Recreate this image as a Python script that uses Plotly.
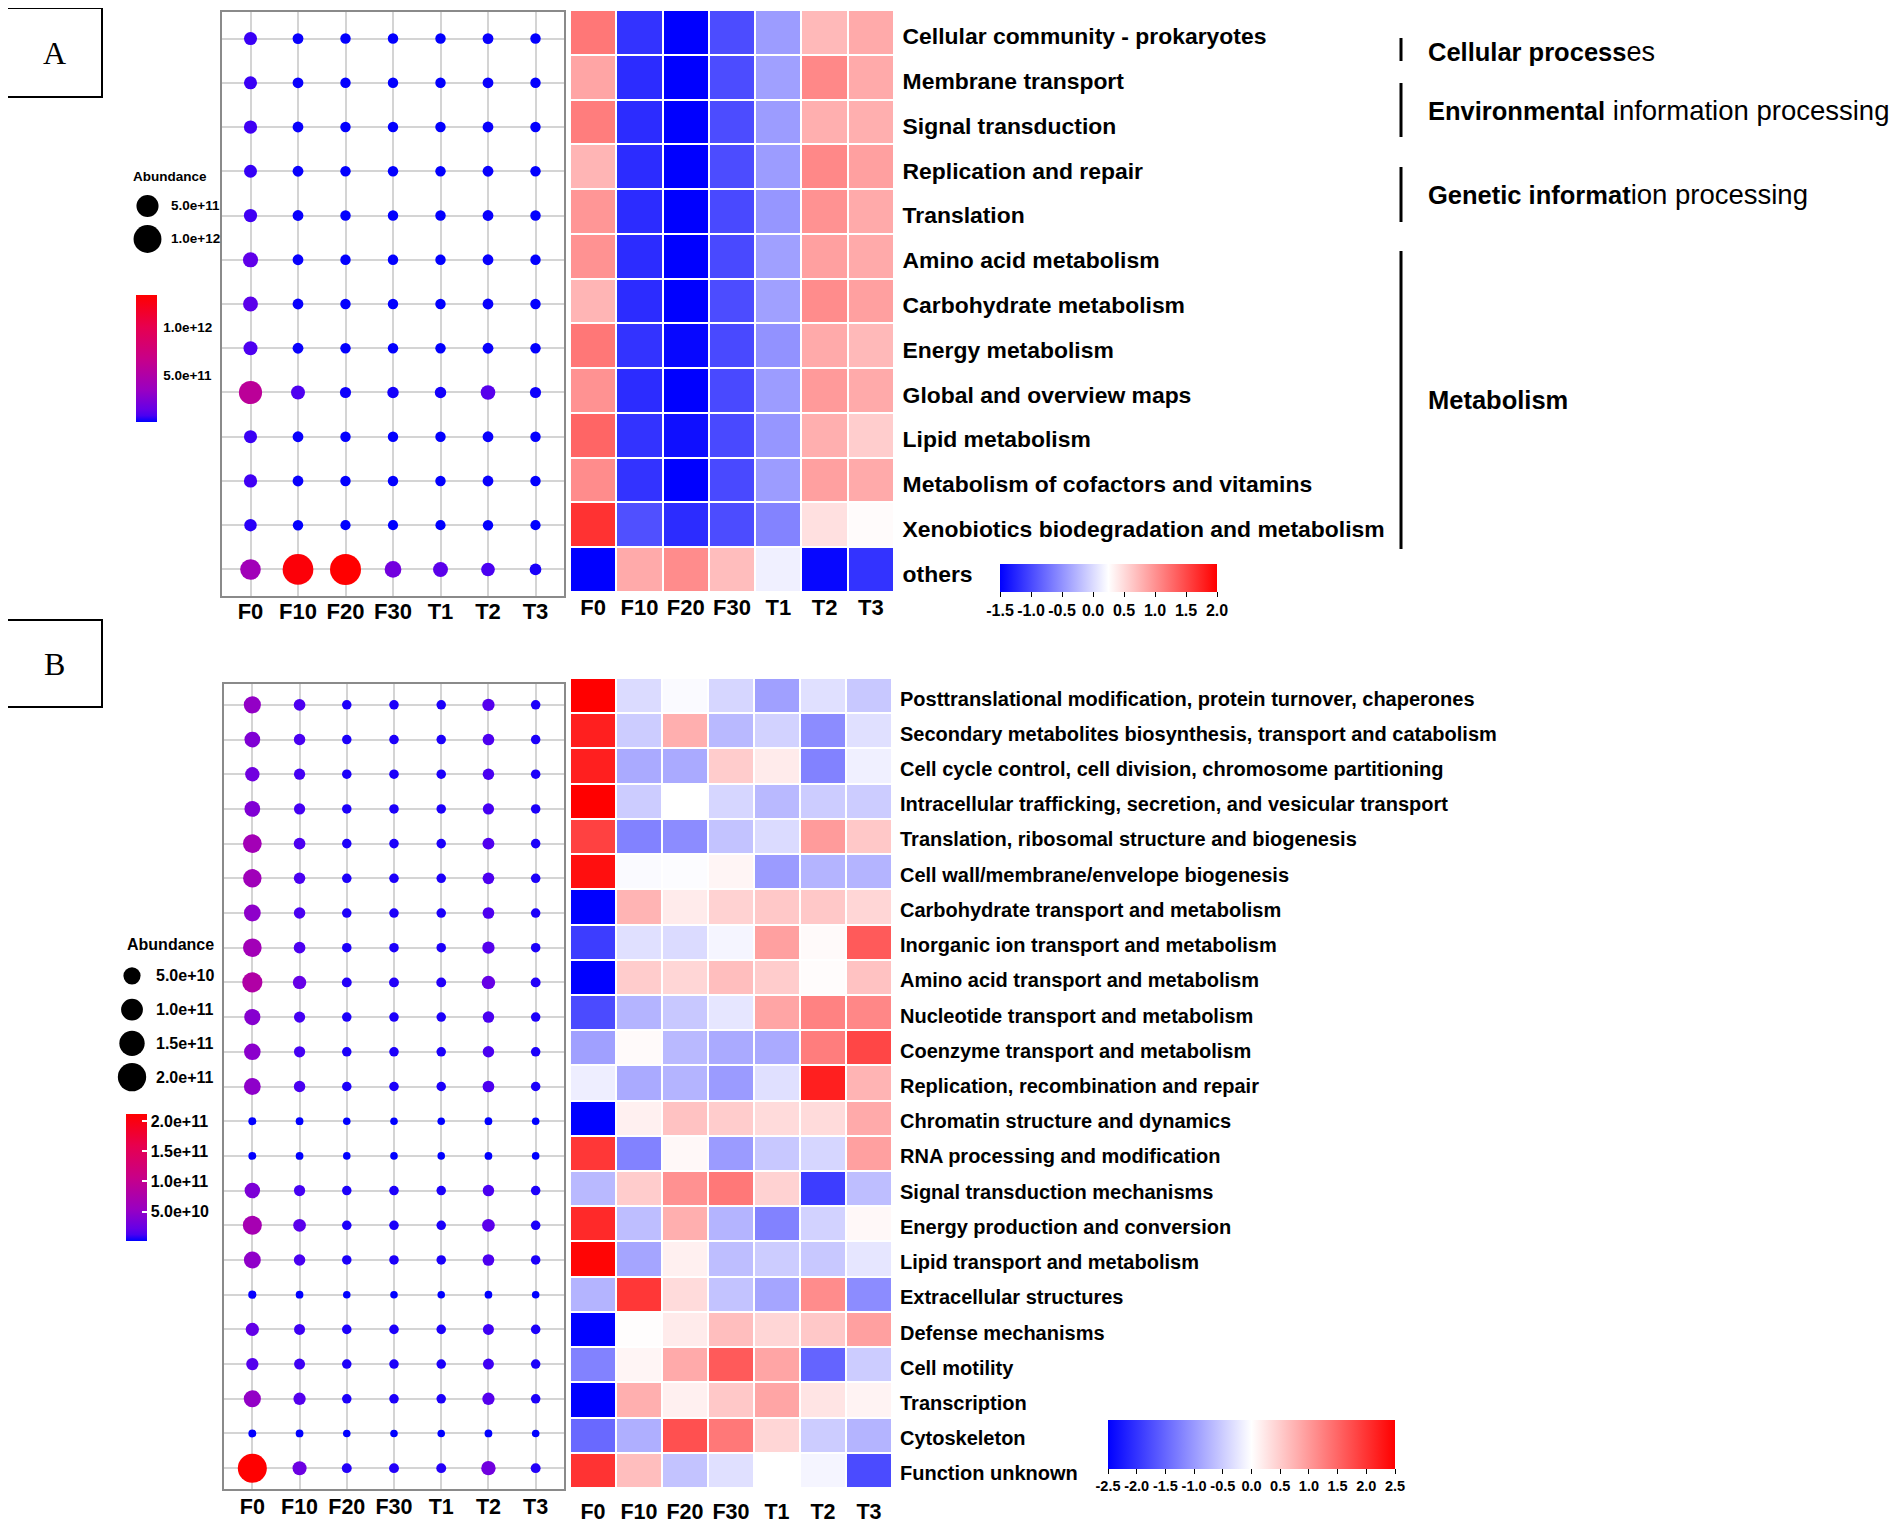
import numpy as np
import plotly.graph_objects as go

W, H = 1902, 1533
OFF = 8  # browser body margin


def px(x):
    return (x - OFF) / W


def py(y):
    return 1 - (y - OFF) / H


SANS = "Liberation Sans, Arial, sans-serif"

samples = ["F0", "F10", "F20", "F30", "T1", "T2", "T3"]

# ---------------- Panel A (KEGG) ----------------
kegg_rows = [
    "Cellular community - prokaryotes", "Membrane transport", "Signal transduction",
    "Replication and repair", "Translation", "Amino acid metabolism",
    "Carbohydrate metabolism", "Energy metabolism", "Global and overview maps",
    "Lipid metabolism", "Metabolism of cofactors and vitamins",
    "Xenobiotics biodegradation and metabolism", "others",
]
# abundance in units of 1e10
kegg_abund_F0 = [6.5, 6.5, 7, 6, 7, 13, 12, 9, 58, 6.5, 7, 5, 40]
kegg_abund_F10 = [2, 2, 2, 2, 2, 2, 2, 2, 9, 2, 2, 1.5, 130]
kegg_abund_F20 = [1.5, 1.5, 1.5, 1.5, 1.5, 1.5, 1.5, 1.5, 2.5, 1.5, 1.5, 1.2, 133.5]
kegg_abund_F30 = [1.5, 1.5, 1.5, 1.5, 1.5, 1.5, 1.5, 1.5, 3, 1.5, 1.5, 1.2, 19]
kegg_abund_T1 = [1.5, 1.5, 1.5, 1.5, 1.5, 1.5, 1.5, 1.5, 3, 1.5, 1.5, 1.2, 12]
kegg_abund_T2 = [2, 2, 2, 2, 2, 2, 2, 2, 11, 2, 2, 1.5, 8]
kegg_abund_T3 = [1.5, 1.5, 1.5, 1.5, 1.5, 1.5, 1.5, 1.5, 2.5, 1.5, 1.5, 1.2, 3.5]

kegg_z_F0 = [1.18, 0.87, 1.14, 0.76, 0.97, 1.0, 0.76, 1.18, 1.0, 1.31, 1.04, 1.66, -1.5]
kegg_z_F10 = [-1.15, -1.2, -1.2, -1.2, -1.2, -1.2, -1.2, -1.15, -1.2, -1.15, -1.15, -0.95, 0.83]
kegg_z_F20 = [-1.5, -1.5, -1.5, -1.5, -1.5, -1.5, -1.5, -1.45, -1.5, -1.4, -1.5, -1.2, 1.04]
kegg_z_F30 = [-0.98, -0.98, -0.98, -0.98, -1.0, -1.0, -0.98, -1.0, -1.0, -1.0, -1.0, -0.98, 0.7]
kegg_z_T1 = [-0.43, -0.4, -0.43, -0.43, -0.47, -0.4, -0.4, -0.5, -0.43, -0.47, -0.43, -0.6, 0.15]
kegg_z_T2 = [0.73, 1.07, 0.8, 1.07, 1.0, 0.9, 1.04, 0.83, 0.94, 0.8, 0.9, 0.46, -1.45]
kegg_z_T3 = [0.83, 0.83, 0.8, 0.9, 0.83, 0.83, 0.9, 0.73, 0.83, 0.59, 0.83, 0.28, -1.15]

kegg_size_breaks = [5e11, 1e12]
kegg_size_labels = ["5.0e+11", "1.0e+12"]
kegg_color_ticks = [5e11, 1e12]
kegg_color_ticklabels = ["5.0e+11", "1.0e+12"]
kegg_z_ticks = [-1.5, -1.0, -0.5, 0.0, 0.5, 1.0, 1.5, 2.0]

kegg_group_names = [
    "<b>Cellular process</b><span style='font-size:27px'>es</span>",
    "<b>Environmental</b><span style='font-size:27.5px'> information processing</span>",
    "<b>Genetic informat</b><span style='font-size:27.5px'>ion processing</span>",
    "<b>Metabolism</b>",
]

# ---------------- Panel B (COG) ----------------
cog_rows = [
    "Posttranslational modification, protein turnover, chaperones",
    "Secondary metabolites biosynthesis, transport and catabolism",
    "Cell cycle control, cell division, chromosome partitioning",
    "Intracellular trafficking, secretion, and vesicular transport",
    "Translation, ribosomal structure and biogenesis",
    "Cell wall/membrane/envelope biogenesis",
    "Carbohydrate transport and metabolism",
    "Inorganic ion transport and metabolism",
    "Amino acid transport and metabolism",
    "Nucleotide transport and metabolism",
    "Coenzyme transport and metabolism",
    "Replication, recombination and repair",
    "Chromatin structure and dynamics",
    "RNA processing and modification",
    "Signal transduction mechanisms",
    "Energy production and conversion",
    "Lipid transport and metabolism",
    "Extracellular structures",
    "Defense mechanisms",
    "Cell motility",
    "Transcription",
    "Cytoskeleton",
    "Function unknown",
]
# abundance in units of 1e10
cog_abund_F0 = [5.0, 3.8, 2.8, 3.8, 6.5, 6.2, 4.7, 6.4, 8.0, 4.2, 4.5, 4.7, 0.15, 0.15, 3.6, 6.8, 4.8, 0.2, 2.1, 1.6, 5.0, 0.15, 21.2]
cog_abund_F10 = [1.3, 1.2, 1.1, 1.1, 1.3, 1.2, 1.2, 1.3, 2.2, 1.1, 1.1, 1.2, 0.12, 0.12, 1.1, 1.8, 1.2, 0.12, 1.0, 1.0, 1.6, 0.12, 2.6]
cog_abund_F20 = [0.5, 0.5, 0.5, 0.5, 0.5, 0.5, 0.5, 0.5, 0.6, 0.5, 0.5, 0.5, 0.1, 0.1, 0.5, 0.5, 0.5, 0.1, 0.5, 0.5, 0.5, 0.1, 0.6]
cog_abund_F30 = [0.5, 0.5, 0.5, 0.5, 0.5, 0.5, 0.5, 0.5, 0.6, 0.5, 0.5, 0.5, 0.1, 0.1, 0.5, 0.5, 0.5, 0.1, 0.5, 0.5, 0.5, 0.1, 0.6]
cog_abund_T1 = [0.5, 0.5, 0.5, 0.5, 0.5, 0.5, 0.5, 0.5, 0.6, 0.5, 0.5, 0.5, 0.1, 0.1, 0.5, 0.5, 0.5, 0.1, 0.5, 0.5, 0.5, 0.1, 0.6]
cog_abund_T2 = [1.6, 1.3, 1.2, 1.1, 1.4, 1.3, 1.3, 1.6, 2.2, 1.2, 1.2, 1.3, 0.12, 0.12, 1.2, 1.8, 1.3, 0.12, 1.0, 1.0, 1.6, 0.12, 2.8]
cog_abund_T3 = [0.5, 0.5, 0.5, 0.5, 0.5, 0.5, 0.5, 0.5, 0.6, 0.5, 0.5, 0.5, 0.1, 0.1, 0.5, 0.5, 0.5, 0.1, 0.5, 0.5, 0.5, 0.1, 0.6]

cog_z_F0 = [2.5, 2.2, 2.2, 2.5, 1.86, 2.35, -2.5, -1.9, -2.5, -1.76, -0.93, -0.17, -2.5, 1.96, -0.69, 2.1, 2.45, -0.74, -2.5, -1.23, -2.5, -1.47, 2.0]
cog_z_F10 = [-0.35, -0.5, -0.83, -0.5, -1.23, -0.05, 0.74, -0.3, 0.5, -0.74, 0.05, -0.83, 0.15, -1.23, 0.5, -0.64, -0.88, 1.96, 0.02, 0.1, 0.78, -0.78, 0.64]
cog_z_F20 = [-0.05, 0.78, -0.83, 0.0, -1.13, -0.03, 0.2, -0.35, 0.4, -0.54, -0.69, -0.74, 0.6, 0.07, 1.08, 0.78, 0.15, 0.35, 0.2, 0.83, 0.15, 1.72, -0.59]
cog_z_F30 = [-0.4, -0.69, 0.5, -0.4, -0.59, 0.1, 0.44, -0.1, 0.64, -0.25, -0.83, -0.98, 0.5, -0.98, 1.32, -0.74, -0.64, -0.59, 0.64, 1.62, 0.54, 1.32, -0.3]
cog_z_T1 = [-0.93, -0.44, 0.2, -0.69, -0.35, -0.98, 0.54, 0.93, 0.5, 0.88, -0.83, -0.3, 0.35, -0.54, 0.44, -1.23, -0.5, -0.88, 0.4, 0.88, 0.88, 0.4, 0.0]
cog_z_T2 = [-0.3, -1.13, -1.23, -0.5, 0.98, -0.74, 0.54, 0.05, 0.03, 1.23, 1.27, 2.2, 0.35, -0.4, -1.9, -0.44, -0.54, 1.13, 0.54, -1.52, 0.26, -0.5, -0.1]
cog_z_T3 = [-0.54, -0.3, -0.15, -0.5, 0.54, -0.74, 0.4, 1.62, 0.6, 1.18, 1.81, 0.74, 0.83, 0.93, -0.64, 0.07, -0.25, -1.13, 0.93, -0.5, 0.12, -0.74, -1.76]

cog_size_breaks = [5e10, 1e11, 1.5e11, 2e11]
cog_size_labels = ["5.0e+10", "1.0e+11", "1.5e+11", "2.0e+11"]
cog_color_ticks = [5e10, 1e11, 1.5e11, 2e11]
cog_color_ticklabels = ["5.0e+10", "1.0e+11", "1.5e+11", "2.0e+11"]
cog_z_ticks = [-2.5, -2.0, -1.5, -1.0, -0.5, 0.0, 0.5, 1.0, 1.5, 2.0, 2.5]

# ggplot-like Lab blue->red gradient
dot_scale = [
    [0.0, "rgb(0,0,255)"], [0.05, "rgb(73,0,242)"], [0.1, "rgb(102,0,230)"],
    [0.25, "rgb(153,0,194)"], [0.5, "rgb(200,0,136)"], [0.75, "rgb(231,0,79)"],
    [1.0, "rgb(255,0,0)"],
]
heat_scale = [[0.0, "#0000FF"], [0.5, "#FFFFFF"], [1.0, "#FF0000"]]


def bold(size):
    return dict(family=SANS, size=size, color="black", weight="bold")


def long_form(rows, cols):
    xs, ys, vs = [], [], []
    for s, col in zip(samples, cols):
        for r, v in zip(rows, col):
            xs.append(s)
            ys.append(r)
            vs.append(v * 1e10)
    return xs, ys, np.array(vs)


def size_fn(v, vmax, dmin, dmax):
    return dmin + (dmax - dmin) * np.sqrt(np.clip(np.asarray(v) / vmax, 0, 1))


fig = go.Figure()

# ---- A dots
ka_cols = [kegg_abund_F0, kegg_abund_F10, kegg_abund_F20, kegg_abund_F30,
           kegg_abund_T1, kegg_abund_T2, kegg_abund_T3]
ax_, ay_, av_ = long_form(kegg_rows, ka_cols)
a_vmax = av_.max()
A_DMIN, A_DMAX = 8, 31
fig.add_trace(go.Scatter(
    x=ax_, y=ay_, mode="markers", xaxis="x", yaxis="y", hoverinfo="skip",
    marker=dict(size=size_fn(av_, a_vmax, A_DMIN, A_DMAX), color=av_, opacity=1,
                colorscale=dot_scale, cmin=av_.min(), cmax=a_vmax, line=dict(width=0),
                showscale=True,
                colorbar=dict(x=px(136), xanchor="left", y=py(295), yanchor="top",
                              len=127, lenmode="pixels", thickness=21, xpad=0, ypad=0,
                              outlinewidth=0, tickvals=kegg_color_ticks,
                              ticktext=kegg_color_ticklabels, ticks="outside", ticklen=4,
                              tickcolor="rgba(0,0,0,0)", tickfont=bold(13.5))),
))

# ---- A heatmap
kz = np.array([kegg_z_F0, kegg_z_F10, kegg_z_F20, kegg_z_F30,
               kegg_z_T1, kegg_z_T2, kegg_z_T3]).T
fig.add_trace(go.Heatmap(
    x=samples, y=kegg_rows, z=kz, xaxis="x2", yaxis="y2", zmin=-1.5, zmax=2.0,
    colorscale=heat_scale, xgap=2, ygap=2, hoverinfo="skip",
    colorbar=dict(orientation="h", x=px(1000), xanchor="left", y=py(564), yanchor="top",
                  len=217, lenmode="pixels", thickness=28, xpad=0, ypad=0, outlinewidth=0,
                  tickvals=kegg_z_ticks, ticktext=[f"{t:.1f}" for t in kegg_z_ticks],
                  ticks="outside", ticklen=5, tickcolor="black", tickangle=0,
                  tickfont=bold(16)),
))

# ---- A size legend
fig.add_trace(go.Scatter(
    x=[0.5] * len(kegg_size_breaks), y=list(range(len(kegg_size_breaks))),
    mode="markers", xaxis="x5", yaxis="y5", hoverinfo="skip",
    marker=dict(size=size_fn(kegg_size_breaks, a_vmax, A_DMIN, A_DMAX), color="#000000",
                opacity=1, line=dict(width=0)),
))

# ---- B dots
ca_cols = [cog_abund_F0, cog_abund_F10, cog_abund_F20, cog_abund_F30,
           cog_abund_T1, cog_abund_T2, cog_abund_T3]
bx_, by_, bv_ = long_form(cog_rows, ca_cols)
b_vmax = bv_.max()
B_DMIN, B_DMAX = 6, 29
fig.add_trace(go.Scatter(
    x=bx_, y=by_, mode="markers", xaxis="x3", yaxis="y3", hoverinfo="skip",
    marker=dict(size=size_fn(bv_, b_vmax, B_DMIN, B_DMAX), color=bv_, opacity=1,
                colorscale=dot_scale, cmin=bv_.min(), cmax=b_vmax, line=dict(width=0),
                showscale=True,
                colorbar=dict(x=px(126), xanchor="left", y=py(1114), yanchor="top",
                              len=127, lenmode="pixels", thickness=21, xpad=0, ypad=0,
                              outlinewidth=0, tickvals=cog_color_ticks,
                              ticktext=cog_color_ticklabels, ticks="inside", ticklen=5,
                              tickcolor="white", tickwidth=1.5, tickfont=bold(16))),
))

# ---- B heatmap
cz = np.array([cog_z_F0, cog_z_F10, cog_z_F20, cog_z_F30,
               cog_z_T1, cog_z_T2, cog_z_T3]).T
fig.add_trace(go.Heatmap(
    x=samples, y=cog_rows, z=cz, xaxis="x4", yaxis="y4", zmin=-2.5, zmax=2.5,
    colorscale=heat_scale, xgap=2, ygap=2, hoverinfo="skip",
    colorbar=dict(orientation="h", x=px(1108), xanchor="left", y=py(1420), yanchor="top",
                  len=287, lenmode="pixels", thickness=49, xpad=0, ypad=0, outlinewidth=0,
                  tickvals=cog_z_ticks, ticktext=[f"{t:.1f}" for t in cog_z_ticks],
                  ticks="outside", ticklen=5, tickcolor="black", tickangle=0,
                  tickfont=bold(14.5)),
))

# ---- B size legend
fig.add_trace(go.Scatter(
    x=[0.5] * len(cog_size_breaks), y=list(range(len(cog_size_breaks))),
    mode="markers", xaxis="x6", yaxis="y6", hoverinfo="skip",
    marker=dict(size=size_fn(cog_size_breaks, b_vmax, B_DMIN, B_DMAX), color="#000000",
                opacity=1, line=dict(width=0)),
))

dot_common = dict(showgrid=True, gridcolor="#D4D4D4", gridwidth=2, zeroline=False,
                  showline=True, mirror=True, linecolor="#8A8A8A", linewidth=1.5,
                  ticks="")
hidden = dict(visible=False, fixedrange=True)

fig.update_layout(
    width=W, height=H, margin=dict(l=0, r=0, t=0, b=0),
    paper_bgcolor="white", plot_bgcolor="white", showlegend=False,
    # A dots
    xaxis=dict(domain=[px(222), px(564)], anchor="y", type="category",
               categoryorder="array", categoryarray=samples, range=[-0.6, 6.6],
               tickfont=bold(22), ticklabelstandoff=-5, **dot_common),
    yaxis=dict(domain=[py(596), py(12)], anchor="x", type="category",
               categoryorder="array", categoryarray=kegg_rows,
               range=[len(kegg_rows) - 0.4, -0.6], showticklabels=False, **dot_common),
    # A heatmap
    xaxis2=dict(domain=[px(570), px(894)], anchor="y2", type="category",
                categoryorder="array", categoryarray=samples, showgrid=False,
                zeroline=False, ticks="", tickfont=bold(22)),
    yaxis2=dict(domain=[py(592), py(10)], anchor="x2", type="category", side="right",
                categoryorder="array", categoryarray=kegg_rows,
                range=[len(kegg_rows) - 0.5, -0.5], showgrid=False, zeroline=False,
                ticks="outside", ticklen=3, tickcolor="white", tickfont=bold(22.9),
                ticklabelshift=-4),
    # B dots
    xaxis3=dict(domain=[px(224), px(564)], anchor="y3", type="category",
                categoryorder="array", categoryarray=samples, range=[-0.6, 6.6],
                tickfont=bold(21.5), ticklabelstandoff=-3, **dot_common),
    yaxis3=dict(domain=[py(1489), py(684)], anchor="x3", type="category",
                categoryorder="array", categoryarray=cog_rows,
                range=[len(cog_rows) - 0.4, -0.6], showticklabels=False, **dot_common),
    # B heatmap
    xaxis4=dict(domain=[px(570), px(892)], anchor="y4", type="category",
                categoryorder="array", categoryarray=samples, showgrid=False,
                zeroline=False, ticks="", tickfont=bold(21.5), ticklabelstandoff=8),
    yaxis4=dict(domain=[py(1488), py(678)], anchor="x4", type="category", side="right",
                categoryorder="array", categoryarray=cog_rows,
                range=[len(cog_rows) - 0.5, -0.5], showgrid=False, zeroline=False,
                ticks="outside", ticklen=3, tickcolor="white", tickfont=bold(20),
                ticklabelshift=-3),
    # size legends
    xaxis5=dict(domain=[px(130), px(165)], anchor="y5", range=[0, 1], **hidden),
    yaxis5=dict(domain=[py(255.5), py(189.5)], anchor="x5", range=[1.5, -0.5], **hidden),
    xaxis6=dict(domain=[px(115), px(149)], anchor="y6", range=[0, 1], **hidden),
    yaxis6=dict(domain=[py(1094), py(959)], anchor="x6", range=[3.5, -0.5], **hidden),
)

annotations = []
shapes = []

# Panel letter boxes
for letter, (x0, y0, x1, y1) in zip(["A", "B"], [(7, 8, 102, 97), (7, 620, 102, 707)]):
    shapes.append(dict(type="rect", xref="paper", yref="paper", x0=px(x0), x1=px(x1),
                       y0=py(y1), y1=py(y0), line=dict(color="black", width=2)))
    annotations.append(dict(text=letter, xref="paper", yref="paper", x=px((x0 + x1) / 2),
                            y=py((y0 + y1) / 2), showarrow=False, xanchor="center",
                            yanchor="middle",
                            font=dict(family="Liberation Serif, Times New Roman, serif",
                                      size=32, color="black")))

# Legend titles and labels
annotations.append(dict(text="Abundance", xref="paper", yref="paper", x=px(170), y=py(176),
                        showarrow=False, xanchor="center", yanchor="middle",
                        font=bold(13.5)))
for i, lab in enumerate(kegg_size_labels):
    annotations.append(dict(text=lab, xref="x5 domain", yref="y5", x=1.1, y=i,
                            showarrow=False, xanchor="left", yanchor="middle",
                            font=bold(13.5)))
annotations.append(dict(text="Abundance", xref="paper", yref="paper", x=px(170), y=py(944),
                        showarrow=False, xanchor="center", yanchor="middle",
                        font=bold(16)))
for i, lab in enumerate(cog_size_labels):
    annotations.append(dict(text=lab, xref="x6 domain", yref="y6", x=1.15, y=i,
                            showarrow=False, xanchor="left", yanchor="middle",
                            font=bold(16)))

# KEGG level-1 group brackets
group_spans = [(38, 61, 52), (83, 137, 110), (167, 222, 195), (251, 549, 400)]
for name, (y0, y1, yc) in zip(kegg_group_names, group_spans):
    shapes.append(dict(type="line", xref="paper", yref="paper", x0=px(1401), x1=px(1401),
                       y0=py(y0), y1=py(y1), line=dict(color="black", width=3)))
    annotations.append(dict(text=name, xref="paper", yref="paper", x=px(1426), y=py(yc),
                            showarrow=False, xanchor="left", yanchor="middle",
                            font=dict(family=SANS, size=25.5, color="black")))

fig.update_layout(annotations=annotations, shapes=shapes)

fig.write_html("out.html")
